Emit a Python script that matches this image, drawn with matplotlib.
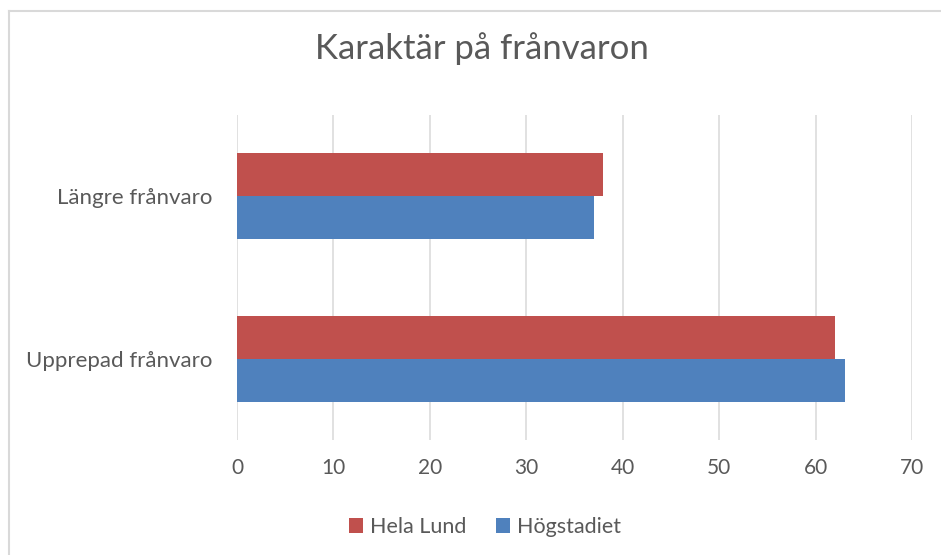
import matplotlib.pyplot as plt
from matplotlib.lines import Line2D
import numpy as np

plt.rcParams['font.family'] = ['Lato', 'DejaVu Sans']

categories = ['Upprepad frånvaro', 'Längre frånvaro']
hela_lund = [62, 38]
hogstadiet = [63, 37]
ticks = [0, 10, 20, 30, 40, 50, 60, 70]

text_col = '#595959'
red = '#C0504D'
blue = '#4F81BD'

fig = plt.figure(figsize=(9.41, 5.55), dpi=100)
ax = fig.add_axes([237 / 941, 1 - 440 / 555, 675 / 941, 325 / 555])

y = np.arange(len(categories))
h = 0.264
ax.barh(y + h / 2, hela_lund, height=h, color=red, label='Hela Lund', zorder=3)
ax.barh(y - h / 2, hogstadiet, height=h, color=blue, label='Högstadiet', zorder=3)

ax.set_xlim(0, 70)
ax.set_ylim(-0.5, 1.5)
ax.set_xticks(ticks)
ax.set_yticks(y)
ax.set_yticklabels(categories)
ax.tick_params(axis='x', length=0, pad=13, labelsize=15, labelcolor=text_col)
ax.tick_params(axis='y', length=0, pad=18, labelsize=16, labelcolor=text_col)
ax.grid(axis='x', color='#D9D9D9', linewidth=1.1, zorder=0)
for s in ax.spines.values():
    s.set_visible(False)

fig.text(482 / 941, 1 - 49 / 555, 'Karaktär på frånvaron', ha='center', va='center',
         fontsize=25, color=text_col)

fig.legend(loc='center', bbox_to_anchor=(485 / 941, 1 - 527 / 555), ncol=2,
           frameon=False, fontsize=15.5, labelcolor=text_col, handlelength=0.65,
           handleheight=0.65, handletextpad=0.3, columnspacing=1.4)

# outer chart border (left and top visible in the reference)
fig.add_artist(Line2D([9 / 941, 9 / 941], [0, 1 - 11 / 555], color='#D9D9D9', linewidth=1.5))
fig.add_artist(Line2D([9 / 941, 1], [1 - 11 / 555, 1 - 11 / 555], color='#D9D9D9', linewidth=1.5))

fig.savefig('out.png', dpi=100)
